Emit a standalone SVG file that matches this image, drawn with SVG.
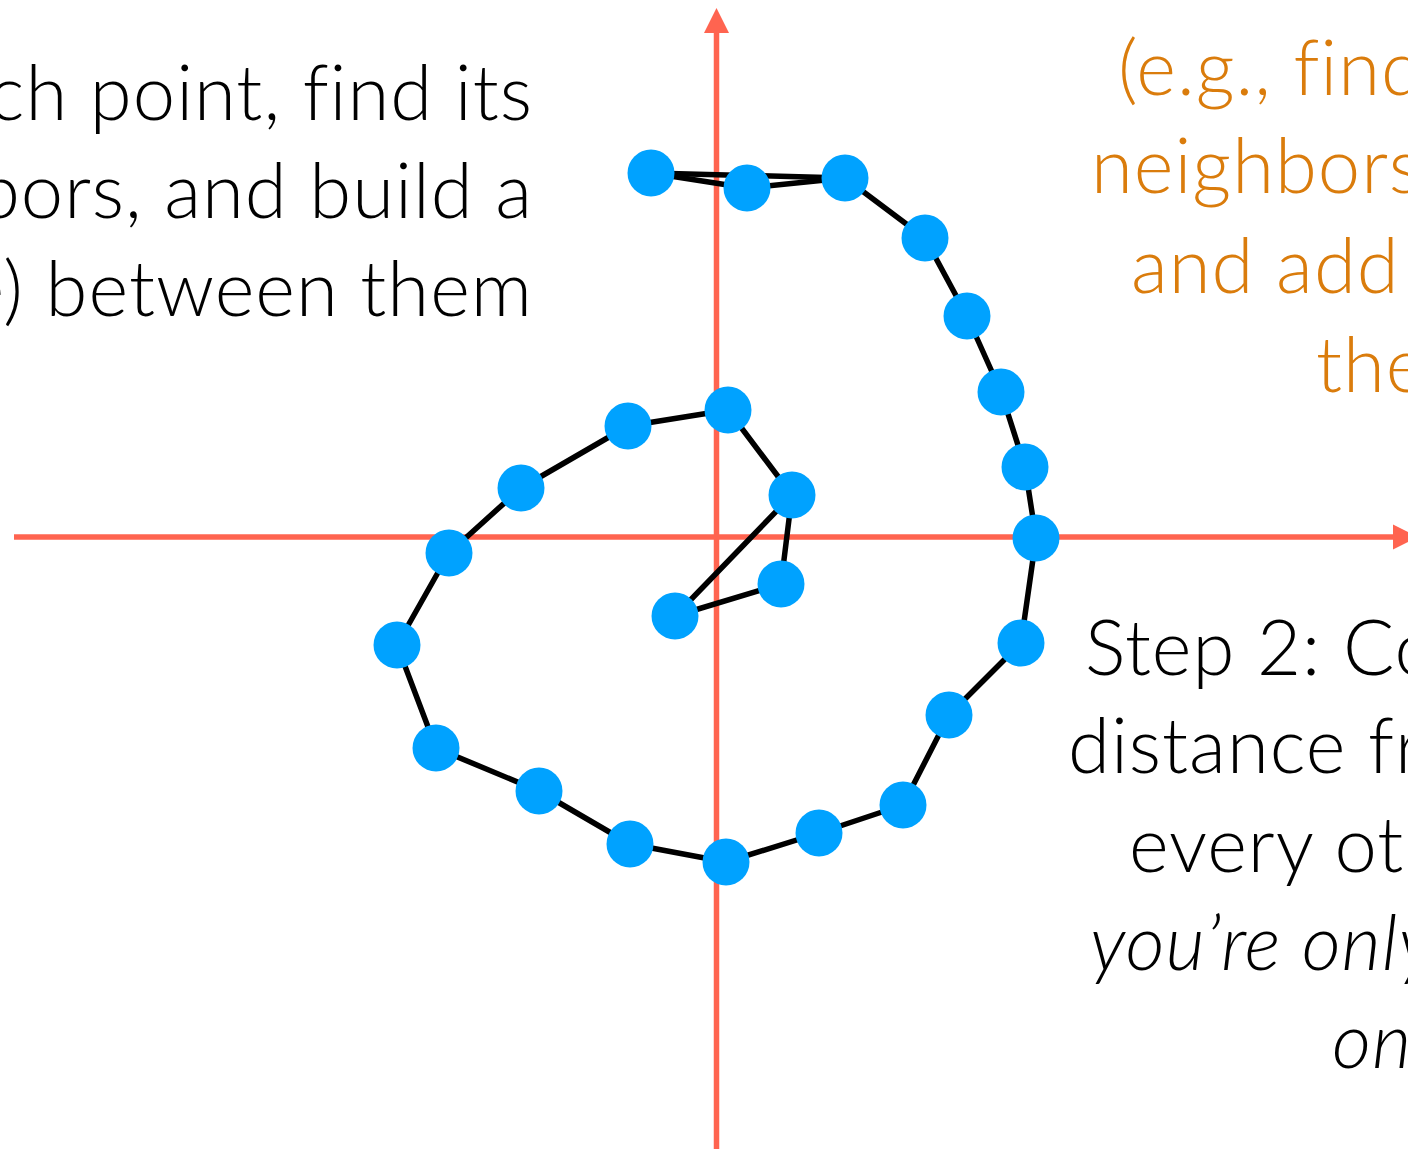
<svg xmlns="http://www.w3.org/2000/svg" width="1408" height="1149" viewBox="0 0 1408 1149">
<style>
.axis{stroke:#FF6450;stroke-width:5.5;fill:none}
.edge{stroke:#000;stroke-width:5.5;fill:none;stroke-linejoin:round}
.pt{fill:#00A2FF}
.t{font-family:Lato,"Open Sans",sans-serif;font-size:76px;font-weight:300;letter-spacing:1px}
.blk{fill:#000}
.org{fill:#DA7C0C}
.it{font-style:italic}
</style>
<rect width="1408" height="1149" fill="#fff"/>
<g id="axes">
<line class="axis" x1="14" y1="537" x2="1394" y2="537"/>
<path d="M1393,524.5 L1418,537 L1393,549.5 z" fill="#FF6450"/>
<line class="axis" x1="716.5" y1="1149" x2="716.5" y2="32"/>
<path d="M704,33 L716.5,8 L729,33 z" fill="#FF6450"/>
</g>
<g id="connectors">
<polyline class="edge" points="651,173 845,178"/>
<polyline class="edge" points="651,173 747,188 845,178 925,238 967,316 1001,392 1025,467 1036,538 1021,643 949,715 903,805 819,833 726,862 630,844 539,791 436,748 397,645 449,553 521,488 628,426 728,410 792,495 781,584 675,616 792,495"/>
</g>
<g id="points">
<circle id="p1" class="pt" cx="651" cy="173" r="23.5"/>
<circle id="p2" class="pt" cx="747" cy="188" r="23.5"/>
<circle id="p3" class="pt" cx="845" cy="178" r="23.5"/>
<circle id="p4" class="pt" cx="925" cy="238" r="23.5"/>
<circle id="p5" class="pt" cx="967" cy="316" r="23.5"/>
<circle id="p6" class="pt" cx="1001" cy="392" r="23.5"/>
<circle id="p7" class="pt" cx="1025" cy="467" r="23.5"/>
<circle id="p8" class="pt" cx="1036" cy="538" r="23.5"/>
<circle id="p9" class="pt" cx="1021" cy="643" r="23.5"/>
<circle id="p10" class="pt" cx="949" cy="715" r="23.5"/>
<circle id="p11" class="pt" cx="903" cy="805" r="23.5"/>
<circle id="p12" class="pt" cx="819" cy="833" r="23.5"/>
<circle id="p13" class="pt" cx="726" cy="862" r="23.5"/>
<circle id="p14" class="pt" cx="630" cy="844" r="23.5"/>
<circle id="p15" class="pt" cx="539" cy="791" r="23.5"/>
<circle id="p16" class="pt" cx="436" cy="748" r="23.5"/>
<circle id="p17" class="pt" cx="397" cy="645" r="23.5"/>
<circle id="p18" class="pt" cx="449" cy="553" r="23.5"/>
<circle id="p19" class="pt" cx="521" cy="488" r="23.5"/>
<circle id="p20" class="pt" cx="628" cy="426" r="23.5"/>
<circle id="p21" class="pt" cx="728" cy="410" r="23.5"/>
<circle id="p22" class="pt" cx="792" cy="495" r="23.5"/>
<circle id="p23" class="pt" cx="781" cy="584" r="23.5"/>
<circle id="p24" class="pt" cx="675" cy="616" r="23.5"/>
</g>
<g id="text-left" class="t blk" text-anchor="end">
<text x="533" y="120">each point, find its</text>
<text x="533" y="218">neighbors, and build a</text>
<text x="533" y="316">(edge) between them</text>
</g>
<g id="text-right-orange" class="t org">
<text x="1118" y="95">(e.g., find</text>
<text x="1091" y="193">neighbors</text>
<text x="1131" y="293">and add</text>
<text x="1316" y="392">the</text>
</g>
<g id="text-right-black" class="t blk">
<text x="1085" y="675">Step 2: Compute</text>
<text x="1068" y="773">distance from</text>
<text x="1129" y="872">every other</text>
<text class="it" x="1090" y="970">you’re only</text>
<text class="it" x="1332" y="1068">on</text>
</g>
</svg>
